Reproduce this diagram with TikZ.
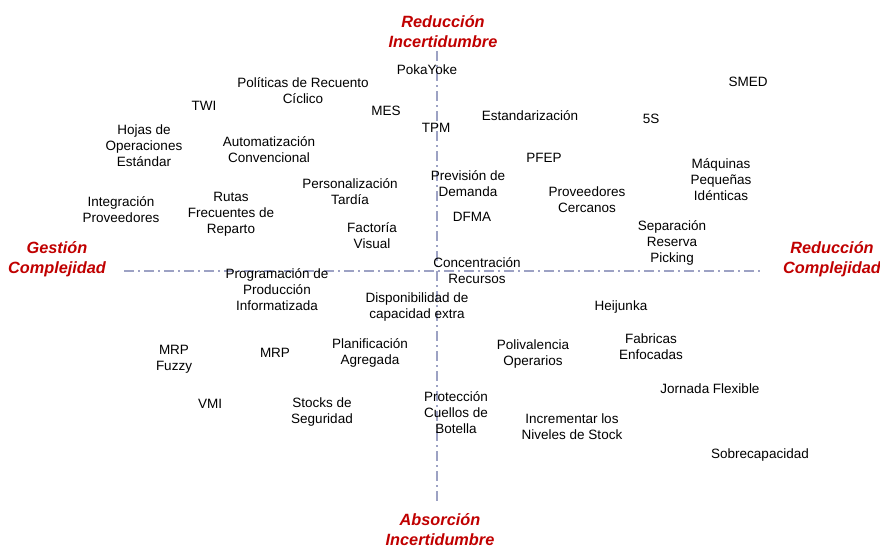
\documentclass[tikz,border=0pt]{standalone}
\usepackage{fontspec}
\setmainfont{Liberation Sans}
\usepackage{tikz}
\usetikzlibrary{positioning,calc}
\usepackage{xcolor}
\definecolor{EjeGris}{HTML}{9DA2C4}
\definecolor{EjeRojo}{HTML}{C00000}

\begin{document}
\begin{tikzpicture}[x=1pt,y=-1pt, every node/.style={font=\fontsize{13.5}{16}\selectfont,align=center,inner sep=0pt,yshift=-1pt}]
    \tikzset{eje/.style={draw=EjeGris,line width=1.5pt,dash pattern=on 10pt off 4pt on 2pt off 4pt},
             polo/.style={text=EjeRojo,font=\fontsize{16.3}{20}\selectfont\bfseries\itshape}}
    \useasboundingbox (0,0) rectangle (880,547);
    % ejes
    \coordinate (izq) at (124,270);
    \coordinate (der) at (762,270);
    \coordinate (arr) at (437,50);
    \coordinate (aba) at (437,502);
    \draw[eje] (izq) -- (der);
    \draw[eje] (arr) -- (aba);
    % polos
    \node[polo] (rinc) at (443,31) {Reducción\\Incertidumbre};
    \node[polo] (gcom) at (57,258) {Gestión\\Complejidad};
    \node[polo] (rcom) at (832,258) {Reducción\\Complejidad};
    \node[polo] (ainc) at (440,529) {Absorción\\Incertidumbre};
    % cuadrante superior
    \node (poka) at (427,69) {PokaYoke};
    \node (polit) at (303,90) {Políticas de Recuento\\Cíclico};
    \node (twi) at (204,105) {TWI};
    \node (mes) at (386,110) {MES};
    \node (tpm) at (436,127) {TPM};
    \node (estd) at (530,115) {Estandarización};
    \node (cinco) at (651,118) {5S};
    \node (smed) at (748,81) {SMED};
    \node (hojas) at (144,145) {Hojas de\\Operaciones\\Estándar};
    \node (autom) at (269,149) {Automatización\\Convencional};
    \node (pfep) at (544,157) {PFEP};
    \node (maq) at (721,179) {Máquinas\\Pequeñas\\Idénticas};
    \node (prev) at (468,183) {Previsión de\\Demanda};
    \node (pers) at (350,191) {Personalización\\Tardía};
    \node (provc) at (587,199) {Proveedores\\Cercanos};
    \node (integ) at (121,209) {Integración\\Proveedores};
    \node (rutas) at (231,213) {Rutas\\Frecuentes de\\Reparto};
    \node (dfma) at (472,216) {DFMA};
    \node (fact) at (372,235) {Factoría\\Visual};
    \node (separ) at (672,242) {Separación\\Reserva\\Picking};
    \node (conc) at (477,270) {Concentración\\Recursos};
    % cuadrante inferior
    \node (progr) at (277,289) {Programación de\\Producción\\Informatizada};
    \node (dispo) at (417,306) {Disponibilidad de\\capacidad extra};
    \node (heij) at (621,306) {Heijunka};
    \node (fabr) at (651,346) {Fabricas\\Enfocadas};
    \node (mrpf) at (174,358) {MRP\\Fuzzy};
    \node (mrp) at (275,352) {MRP};
    \node (plan) at (370,352) {Planificación\\Agregada};
    \node (poli) at (533,353) {Polivalencia\\Operarios};
    \node (jorn) at (710,388) {Jornada Flexible};
    \node (vmi) at (210,403) {VMI};
    \node (stock) at (322,411) {Stocks de\\Seguridad};
    \node (prot) at (456,412) {Protección\\Cuellos de\\Botella};
    \node (incr) at (572,426) {Incrementar los\\Niveles de Stock};
    \node (sobre) at (760,454) {Sobrecapacidad};
  \end{tikzpicture}
\end{document}
